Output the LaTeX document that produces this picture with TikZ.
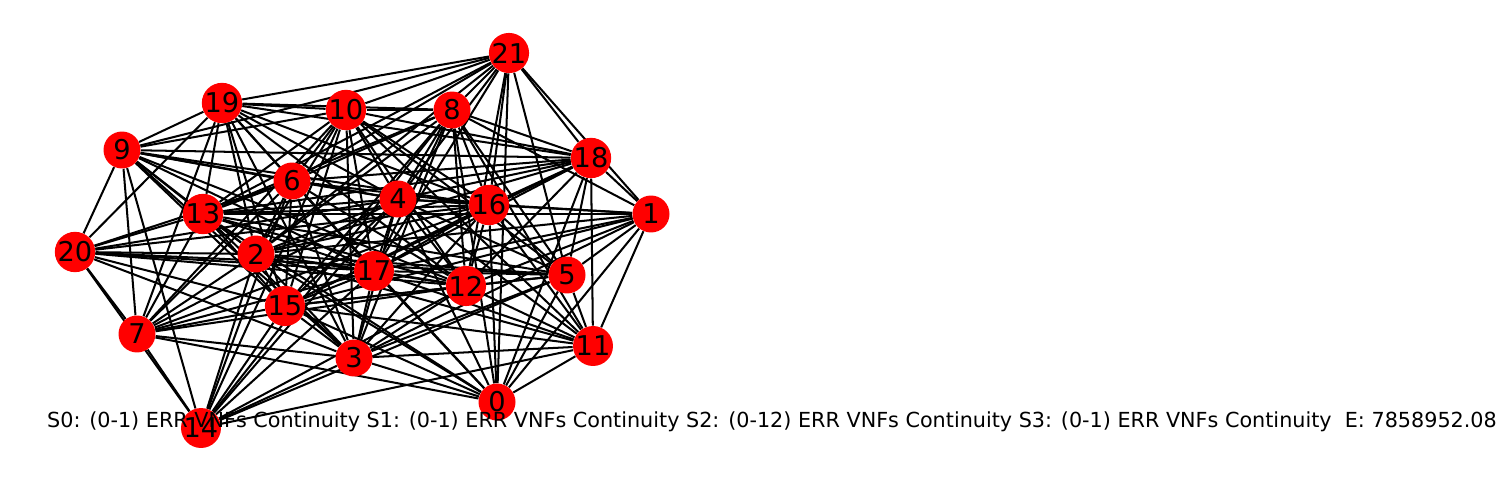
\documentclass[tikz,border=0pt]{standalone}
\usepackage{fontspec}
\setmainfont{DejaVu Sans}
\usetikzlibrary{positioning,backgrounds}

\tikzset{
  vnf/.style={circle,fill=red,minimum size=0.74cm,inner sep=0pt,font=\fontsize{15.5}{17}\selectfont},
  link/.style={line width=1.15pt,black}
}

\begin{document}
\begin{tikzpicture}[x=0.02cm,y=-0.02cm]
\useasboundingbox (0,0) rectangle (1511,483);
% nodes
\node[vnf] (n21) at (509,53) {21};
\node[vnf] (n19) at (222,103) {19};
\node[vnf] (n10) at (346,110) {10};
\node[vnf] (n8) at (452,110) {8};
\node[vnf] (n9) at (122,150) {9};
\node[vnf] (n18) at (591,158) {18};
\node[vnf] (n6) at (292,181) {6};
\node[vnf] (n4) at (398,199) {4};
\node[vnf] (n16) at (489,205) {16};
\node[vnf] (n13) at (203,214) {13};
\node[vnf] (n1) at (651,214) {1};
\node[vnf] (n20) at (75,252) {20};
\node[vnf] (n2) at (256,254) {2};
\node[vnf] (n17) at (374,271) {17};
\node[vnf] (n12) at (466,286) {12};
\node[vnf] (n5) at (567,275) {5};
\node[vnf] (n15) at (285,306) {15};
\node[vnf] (n7) at (137,334) {7};
\node[vnf] (n11) at (593,346) {11};
\node[vnf] (n3) at (354,358) {3};
\node[vnf] (n0) at (497,402) {0};
\node[vnf] (n14) at (201,428) {14};
% links
\begin{pgfonlayer}{background}
\foreach \a/\b in {0/7,0/15,0/3,0/2,0/13,0/6,0/17,0/4,0/8,0/16,0/21,0/18,0/1,0/5,0/11,
  1/18,1/21,1/8,1/16,1/4,1/13,1/2,1/17,1/12,1/5,1/3,1/11,1/15,
  21/19,21/9,21/10,21/8,21/6,21/4,21/13,21/2,21/17,21/16,21/12,21/5,21/18,
  20/9,20/19,20/6,20/13,20/4,20/16,20/2,20/17,20/12,20/5,20/15,20/3,20/7,20/14,
  9/19,9/10,9/18,9/6,9/4,9/16,9/13,9/2,9/17,9/15,9/3,9/12,9/7,9/14,
  19/10,19/8,19/18,19/16,19/4,19/6,19/13,19/2,19/15,19/17,19/12,19/3,19/7,
  10/8,10/18,10/16,10/4,10/6,10/13,10/2,10/17,10/15,10/3,10/12,10/5,10/11,10/7,10/14,
  8/6,8/4,8/13,8/2,8/17,8/15,8/16,8/12,8/5,8/11,8/18,8/3,8/14,
  18/6,18/4,18/16,18/13,18/2,18/17,18/15,18/12,18/5,18/11,
  6/13,6/4,6/16,6/2,6/17,6/12,6/15,6/3,6/7,6/14,
  4/16,4/13,4/2,4/17,4/12,4/5,4/15,4/3,4/7,4/14,4/11,
  16/13,16/2,16/17,16/12,16/5,16/15,16/3,16/11,16/7,
  13/2,13/17,13/12,13/5,13/15,13/3,13/7,
  2/17,2/12,2/5,2/15,2/3,2/11,2/7,2/14,
  17/12,17/5,17/15,17/3,17/11,17/7,17/14,
  12/5,12/15,12/3,12/11,12/7,12/14,
  5/15,5/3,5/11,5/14,
  15/3,15/11,15/7,15/14,
  7/3,7/14,3/11,3/14,11/14}
  \draw[link] (n\a) -- (n\b);
\end{pgfonlayer}
% caption
\node (cap) at (772,422) {\fontsize{11.8}{14}\selectfont S0: (0-1) ERR VNFs Continuity S1: (0-1) ERR VNFs Continuity S2: (0-12) ERR VNFs Continuity S3: (0-1) ERR VNFs Continuity\ \ E: 7858952.08};
\end{tikzpicture}
\end{document}
